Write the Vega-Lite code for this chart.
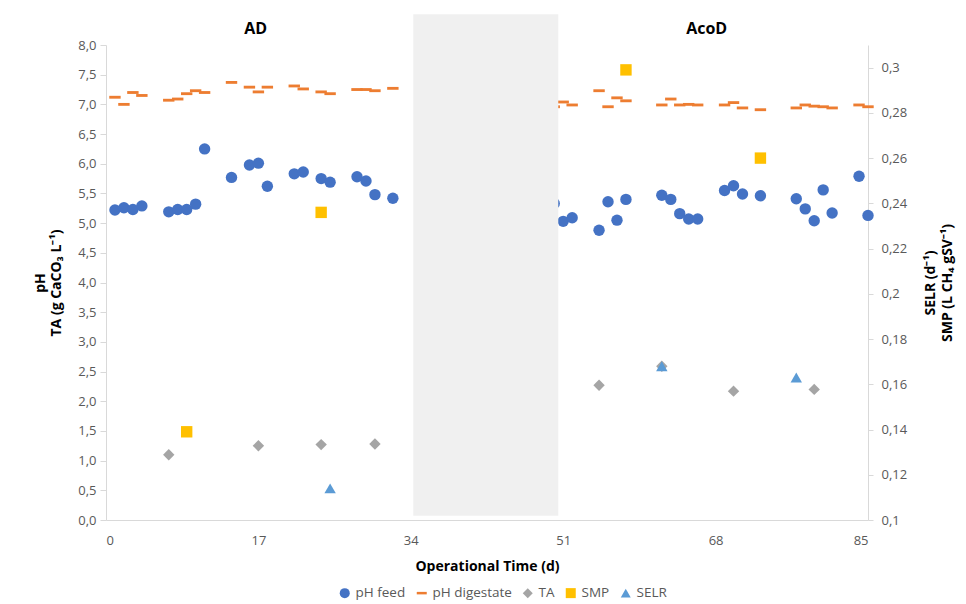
{
  "$schema": "https://vega.github.io/schema/vega-lite/v6.json",
  "width": 762,
  "height": 475,
  "autosize": {"type": "none"},
  "padding": {"left": 106, "top": 45, "right": 98, "bottom": 84},
  "background": "white",
  "config": {
    "font": "Open Sans",
    "view": {"stroke": null},
    "axis": {
      "grid": false,
      "domainColor": "#D9D9D9",
      "tickColor": "#D9D9D9",
      "labelColor": "#595959",
      "labelFontSize": 13,
      "labelOverlap": false,
      "titleColor": "#000000",
      "titleFontSize": 14,
      "titleFontWeight": "bold"
    },
    "legend": {
      "orient": "none",
      "legendX": 232,
      "legendY": 541,
      "direction": "horizontal",
      "labelFontSize": 13.5,
      "labelColor": "#595959",
      "symbolSize": 100,
      "labelOffset": 4,
      "columnPadding": 9
    }
  },
  "datasets": {
    "obs": [
      {"day": 1, "series": "pH feed", "value": 5.22},
      {"day": 2, "series": "pH feed", "value": 5.26},
      {"day": 3, "series": "pH feed", "value": 5.23},
      {"day": 4, "series": "pH feed", "value": 5.29},
      {"day": 7, "series": "pH feed", "value": 5.19},
      {"day": 8, "series": "pH feed", "value": 5.23},
      {"day": 9, "series": "pH feed", "value": 5.23},
      {"day": 10, "series": "pH feed", "value": 5.32},
      {"day": 11, "series": "pH feed", "value": 6.25},
      {"day": 14, "series": "pH feed", "value": 5.77},
      {"day": 16, "series": "pH feed", "value": 5.98},
      {"day": 17, "series": "pH feed", "value": 6.01},
      {"day": 18, "series": "pH feed", "value": 5.62},
      {"day": 21, "series": "pH feed", "value": 5.83},
      {"day": 22, "series": "pH feed", "value": 5.86},
      {"day": 24, "series": "pH feed", "value": 5.75},
      {"day": 25, "series": "pH feed", "value": 5.69},
      {"day": 28, "series": "pH feed", "value": 5.78},
      {"day": 29, "series": "pH feed", "value": 5.71},
      {"day": 30, "series": "pH feed", "value": 5.48},
      {"day": 32, "series": "pH feed", "value": 5.42},
      {"day": 50, "series": "pH feed", "value": 5.33},
      {"day": 51, "series": "pH feed", "value": 5.03},
      {"day": 52, "series": "pH feed", "value": 5.09},
      {"day": 55, "series": "pH feed", "value": 4.88},
      {"day": 56, "series": "pH feed", "value": 5.36},
      {"day": 57, "series": "pH feed", "value": 5.05},
      {"day": 58, "series": "pH feed", "value": 5.40},
      {"day": 62, "series": "pH feed", "value": 5.47},
      {"day": 63, "series": "pH feed", "value": 5.40},
      {"day": 64, "series": "pH feed", "value": 5.16},
      {"day": 65, "series": "pH feed", "value": 5.07},
      {"day": 66, "series": "pH feed", "value": 5.07},
      {"day": 69, "series": "pH feed", "value": 5.55},
      {"day": 70, "series": "pH feed", "value": 5.63},
      {"day": 71, "series": "pH feed", "value": 5.49},
      {"day": 73, "series": "pH feed", "value": 5.46},
      {"day": 77, "series": "pH feed", "value": 5.41},
      {"day": 78, "series": "pH feed", "value": 5.24},
      {"day": 79, "series": "pH feed", "value": 5.04},
      {"day": 80, "series": "pH feed", "value": 5.56},
      {"day": 81, "series": "pH feed", "value": 5.17},
      {"day": 84, "series": "pH feed", "value": 5.79},
      {"day": 85, "series": "pH feed", "value": 5.13},
      {"day": 1, "series": "pH digestate", "value": 7.12},
      {"day": 2, "series": "pH digestate", "value": 7.00},
      {"day": 3, "series": "pH digestate", "value": 7.20},
      {"day": 4, "series": "pH digestate", "value": 7.15},
      {"day": 7, "series": "pH digestate", "value": 7.07},
      {"day": 8, "series": "pH digestate", "value": 7.09},
      {"day": 9, "series": "pH digestate", "value": 7.18},
      {"day": 10, "series": "pH digestate", "value": 7.23},
      {"day": 11, "series": "pH digestate", "value": 7.20},
      {"day": 14, "series": "pH digestate", "value": 7.37},
      {"day": 16, "series": "pH digestate", "value": 7.29},
      {"day": 17, "series": "pH digestate", "value": 7.21},
      {"day": 18, "series": "pH digestate", "value": 7.29},
      {"day": 21, "series": "pH digestate", "value": 7.31},
      {"day": 22, "series": "pH digestate", "value": 7.26},
      {"day": 24, "series": "pH digestate", "value": 7.21},
      {"day": 25, "series": "pH digestate", "value": 7.18},
      {"day": 28, "series": "pH digestate", "value": 7.25},
      {"day": 29, "series": "pH digestate", "value": 7.25},
      {"day": 30, "series": "pH digestate", "value": 7.23},
      {"day": 32, "series": "pH digestate", "value": 7.27},
      {"day": 50, "series": "pH digestate", "value": 6.96},
      {"day": 51, "series": "pH digestate", "value": 7.04},
      {"day": 52, "series": "pH digestate", "value": 6.99},
      {"day": 55, "series": "pH digestate", "value": 7.23},
      {"day": 56, "series": "pH digestate", "value": 6.96},
      {"day": 57, "series": "pH digestate", "value": 7.11},
      {"day": 58, "series": "pH digestate", "value": 7.06},
      {"day": 62, "series": "pH digestate", "value": 6.99},
      {"day": 63, "series": "pH digestate", "value": 7.09},
      {"day": 64, "series": "pH digestate", "value": 6.99},
      {"day": 65, "series": "pH digestate", "value": 7.00},
      {"day": 66, "series": "pH digestate", "value": 6.99},
      {"day": 69, "series": "pH digestate", "value": 6.99},
      {"day": 70, "series": "pH digestate", "value": 7.03},
      {"day": 71, "series": "pH digestate", "value": 6.94},
      {"day": 73, "series": "pH digestate", "value": 6.91},
      {"day": 77, "series": "pH digestate", "value": 6.94},
      {"day": 78, "series": "pH digestate", "value": 6.99},
      {"day": 79, "series": "pH digestate", "value": 6.97},
      {"day": 80, "series": "pH digestate", "value": 6.96},
      {"day": 81, "series": "pH digestate", "value": 6.94},
      {"day": 84, "series": "pH digestate", "value": 6.99},
      {"day": 85, "series": "pH digestate", "value": 6.96},
      {"day": 7, "series": "TA", "value": 1.10},
      {"day": 17, "series": "TA", "value": 1.25},
      {"day": 24, "series": "TA", "value": 1.27},
      {"day": 30, "series": "TA", "value": 1.28},
      {"day": 55, "series": "TA", "value": 2.27},
      {"day": 62, "series": "TA", "value": 2.59},
      {"day": 70, "series": "TA", "value": 2.17},
      {"day": 79, "series": "TA", "value": 2.20},
      {"day": 9, "series": "SMP", "value": 0.139},
      {"day": 24, "series": "SMP", "value": 0.236},
      {"day": 58, "series": "SMP", "value": 0.299},
      {"day": 73, "series": "SMP", "value": 0.260},
      {"day": 25, "series": "SELR", "value": 0.114},
      {"day": 62, "series": "SELR", "value": 0.168},
      {"day": 77, "series": "SELR", "value": 0.163}
    ],
    "shade": [{"day": 34.28, "day2": 50.45, "value": 0.07, "value2": 8.52}],
    "phases": [
      {"day": 16.7, "value": 8.27, "label": "AD"},
      {"day": 67, "value": 8.27, "label": "AcoD"}
    ]
  },
  "layer": [
    {
      "encoding": {
        "x": {"field": "day", "type": "quantitative", "scale": {"domain": [0, 85], "nice": false},
          "axis": {"values": [0, 17, 34, 51, 68, 85], "title": "Operational Time (d)", "ticks": false, "labelPadding": 14, "titlePadding": 12, "labelFontSize": 13, "labelOverlap": false}},
        "y": {"field": "value", "type": "quantitative", "scale": {"domain": [0, 8], "nice": false, "zero": false},
          "axis": {"orient": "left", "values": [0,0.5,1,1.5,2,2.5,3,3.5,4,4.5,5,5.5,6,6.5,7,7.5,8],
            "labelOverlap": false,
            "labelExpr": "replace(format(datum.value, '.1f'), '.', ',')",
            "title": ["pH", "TA (g CaCO₃ L⁻¹)"], "tickSize": 6, "labelPadding": 4, "titlePadding": 14, "titleLineHeight": 16}}
      },
      "layer": [
        {
          "data": {"name": "obs"},
          "transform": [{"filter": "indexof(['pH feed','pH digestate','TA'], datum.series) >= 0"}],
          "mark": {"type": "point", "filled": true, "opacity": 1, "size": 130},
          "encoding": {
            "color": {"field": "series", "type": "nominal",
              "scale": {"domain": ["pH feed", "pH digestate", "TA", "SMP", "SELR"], "range": ["#4472C4", "#ED7D31", "#A5A5A5", "#FFC000", "#5B9BD5"]},
              "legend": {"title": null}},
            "shape": {"field": "series", "type": "nominal",
              "scale": {"domain": ["pH feed", "pH digestate", "TA", "SMP", "SELR"], "range": ["circle", "M-1,-0.25H1V0.25H-1Z", "diamond", "square", "triangle-up"]},
              "legend": {"title": null}}
          }
        },
        {
          "data": {"name": "shade"},
          "mark": {"type": "rect", "color": "#F0F0F0"},
          "encoding": {
            "x2": {"field": "day2"},
            "y2": {"field": "value2"}
          }
        },
        {
          "data": {"name": "phases"},
          "mark": {"type": "text", "fontWeight": "bold", "fontSize": 16, "color": "#000000", "baseline": "middle", "align": "center"},
          "encoding": {
            "text": {"field": "label"}
          }
        }
      ]
    },
    {
      "data": {"name": "obs"},
      "transform": [{"filter": "indexof(['SMP','SELR'], datum.series) >= 0"}],
      "mark": {"type": "point", "filled": true, "opacity": 1, "size": 130},
      "encoding": {
        "x": {"field": "day", "type": "quantitative", "scale": {"domain": [0, 85], "nice": false},
          "axis": {"values": [0, 17, 34, 51, 68, 85], "title": "Operational Time (d)", "ticks": false, "labelPadding": 14, "titlePadding": 12, "labelFontSize": 13, "labelOverlap": false}},
        "y": {"field": "value", "type": "quantitative", "scale": {"domain": [0.1, 0.31], "nice": false, "zero": false},
          "axis": {"orient": "right", "values": [0.1,0.12,0.14,0.16,0.18,0.2,0.22,0.24,0.26,0.28,0.3],
            "labelOverlap": false,
            "labelExpr": "replace(format(datum.value, '.2~f'), '.', ',')",
            "title": ["SELR (d⁻¹)", "SMP (L CH₄ gSV⁻¹)"], "titleAngle": 270, "tickSize": 5, "labelPadding": 8, "titlePadding": 14, "titleLineHeight": 17}},
        "color": {"field": "series", "type": "nominal",
          "scale": {"domain": ["pH feed", "pH digestate", "TA", "SMP", "SELR"], "range": ["#4472C4", "#ED7D31", "#A5A5A5", "#FFC000", "#5B9BD5"]},
          "legend": {"title": null}},
        "shape": {"field": "series", "type": "nominal",
          "scale": {"domain": ["pH feed", "pH digestate", "TA", "SMP", "SELR"], "range": ["circle", "M-1,-0.25H1V0.25H-1Z", "diamond", "square", "triangle-up"]},
          "legend": {"title": null}}
      }
    }
  ],
  "resolve": {"scale": {"y": "independent"}}
}
